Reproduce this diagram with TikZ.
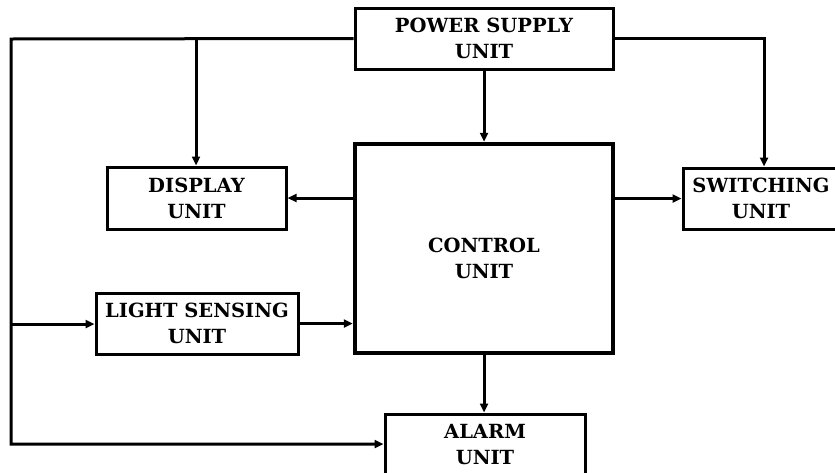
\documentclass[tikz,border=0pt]{standalone}
\usepackage{fontspec}
\setmainfont{DejaVu Serif}
\usetikzlibrary{arrows.meta,calc}
\tikzset{
  unitfont/.style={font=\fontsize{19.5}{26}\selectfont\bfseries},
  unitbox/.style={draw, line width=3pt, rectangle, align=center, inner sep=0pt, unitfont},
  conn/.style={line width=3pt},
  arr/.style={conn, -{Triangle[length=9pt,width=8pt]}},
}
\begin{document}
\begin{tikzpicture}[x=1pt,y=-1pt]
\useasboundingbox (0,0) rectangle (835,472);
\clip (0,0) rectangle (835,472);
\node[unitbox, minimum width=258, minimum height=61] (ps) at (484,38.5) {POWER SUPPLY\\UNIT};
\node[unitbox, minimum width=179, minimum height=62] (disp) at (196.5,198) {DISPLAY\\UNIT};
\node[unitbox, minimum width=156, minimum height=61] (sw) at (761,198.5) {SWITCHING\\UNIT};
\node[draw, line width=4.5pt, minimum width=258, minimum height=209, inner sep=0pt] (ctrl) at (484,248.5) {};
\node[align=center, inner sep=0pt, unitfont] (ctext) at (484,258) {CONTROL\\UNIT};
\node[unitbox, minimum width=202, minimum height=61] (light) at (197,323.5) {LIGHT SENSING\\UNIT};
\node[unitbox, minimum width=200, minimum height=61] (alarm) at (485,444.5) {ALARM\\UNIT};
\coordinate (tl) at (11,39);
\coordinate (bl) at (11,444);
\coordinate (ml) at (11,324);
\coordinate (dtop) at (196,39);
% power distribution
\draw[arr] (ps.west) -- (tl) -- (bl) -- (bl -| alarm.west);
\draw[arr] (ml) -- (ml -| light.west);
\draw[arr] (dtop) -- (dtop |- disp.north);
\draw[arr] (ps.east) -| ([xshift=3pt]sw.north);
\draw[arr] (ps.south) -- (ctrl.north);
% control outputs
\draw[arr] (ctrl.west |- disp.east) -- (disp.east);
\draw[arr] (ctrl.east |- sw.west) -- (sw.west);
\draw[arr] (light.east) -- (light.east -| ctrl.west);
\draw[arr] (ctrl.south) -- (ctrl.south |- alarm.north);
\end{tikzpicture}
\end{document}
